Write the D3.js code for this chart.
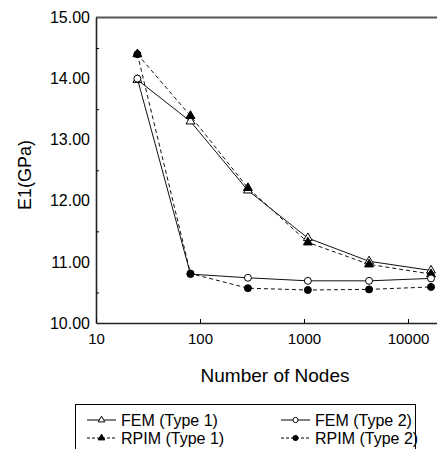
<!DOCTYPE html>
<html>
<head>
<meta charset="utf-8">
<script src="https://cdn.jsdelivr.net/npm/d3@7"></script>
<style>
body{margin:0;background:#fff;}
svg{display:block;font-family:"Liberation Sans",Arial,sans-serif;}
.tick text{fill:#000;}
</style>
</head>
<body>
<svg id="chart"></svg>
<script>
//data
var nodes = [25, 81, 289, 1089, 4225, 16641];
var femType1 = [13.98, 13.30, 12.17, 11.39, 11.01, 10.86];
var rpimType1 = [14.40, 13.39, 12.21, 11.32, 10.96, 10.80];
var femType2 = [14.00, 10.80, 10.74, 10.69, 10.69, 10.73];
var rpimType2 = [14.40, 10.81, 10.57, 10.54, 10.55, 10.59];
var xTicks = [10, 100, 1000, 10000];
var yTicks = [10, 11, 12, 13, 14, 15];
var yMinor = [10.5, 11.5, 12.5, 13.5, 14.5];

var seriesList = [
    {name:"FEM (Type 1)", values:femType1, marker:"triangle", filled:false, dashed:false},
    {name:"RPIM (Type 1)", values:rpimType1, marker:"triangle", filled:true, dashed:true},
    {name:"FEM (Type 2)", values:femType2, marker:"circle", filled:false, dashed:false},
    {name:"RPIM (Type 2)", values:rpimType2, marker:"circle", filled:true, dashed:true}
];

var screen = {width:437, height:449};
var plot = {left:96, top:17.5, bottom:323};

var svg = d3.select("#chart")
    .attr("width", screen.width)
    .attr("height", screen.height);

var xScale = d3.scaleLog()
    .domain([10, 20000])
    .range([plot.left, plot.left + 104 * Math.log10(2000)]);

var yScale = d3.scaleLinear()
    .domain([10, 15])
    .range([plot.bottom, plot.top]);

var drawMarker = function(g, s, size)
{
    if(s.marker == "circle")
    {
        g.append("circle")
            .attr("r", size)
            .attr("fill", s.filled ? "#000" : "#fff")
            .attr("stroke", "#000")
            .attr("stroke-width", 1);
    }
    else
    {
        g.append("path")
            .attr("d", d3.symbol().type(d3.symbolTriangle).size(size * size * 2.8)())
            .attr("fill", s.filled ? "#000" : "#fff")
            .attr("stroke", "#000")
            .attr("stroke-width", 1);
    }
}

var drawAxes = function()
{
    //top border
    svg.append("line")
        .attr("x1", plot.left).attr("x2", screen.width)
        .attr("y1", plot.top).attr("y2", plot.top)
        .attr("stroke", "#555").attr("stroke-width", 2);

    var yAxis = d3.axisLeft(yScale)
        .tickValues(yTicks)
        .tickFormat(d3.format(".2f"))
        .tickSize(0)
        .tickPadding(6);
    var ya = svg.append("g")
        .attr("transform", "translate(" + plot.left + ",0)")
        .call(yAxis);
    ya.select(".domain").attr("stroke", "#222").attr("stroke-width", 1.6);
    ya.selectAll("text").style("font-size", "16px");

    var yMinorAxis = d3.axisRight(yScale)
        .tickValues(yMinor)
        .tickFormat("")
        .tickSize(3);
    var ym = svg.append("g")
        .attr("transform", "translate(" + plot.left + ",0)")
        .call(yMinorAxis);
    ym.select(".domain").remove();

    var xAxis = d3.axisBottom(xScale)
        .tickValues(xTicks)
        .tickFormat(d3.format("d"))
        .tickSizeInner(-4)
        .tickSizeOuter(0)
        .tickPadding(10);
    var xa = svg.append("g")
        .attr("transform", "translate(0," + plot.bottom + ")")
        .call(xAxis);
    xa.select(".domain").attr("stroke", "#222").attr("stroke-width", 1.6);
    xa.selectAll("text").style("font-size", "15px");
}

var drawLabels = function()
{
    svg.append("text")
        .text("Number of Nodes")
        .attr("x", 275)
        .attr("y", 382)
        .attr("text-anchor", "middle")
        .style("font-size", "19px");

    svg.append("text")
        .text("E1(GPa)")
        .attr("text-anchor", "middle")
        .attr("transform", "translate(31,175) rotate(-90)")
        .style("font-size", "18px");
}

var drawPlot = function()
{
    var line = d3.line()
        .x(function(d){ return xScale(d.n); })
        .y(function(d){ return yScale(d.v); });

    seriesList.forEach(function(s)
    {
        var pts = nodes.map(function(n, i){ return {n:n, v:s.values[i]}; });
        svg.append("path")
            .datum(pts)
            .attr("d", line)
            .attr("fill", "none")
            .attr("stroke", "#111")
            .attr("stroke-width", 1)
            .attr("stroke-dasharray", s.dashed ? "4,3" : null);
    });

    seriesList.forEach(function(s)
    {
        nodes.forEach(function(n, i)
        {
            var g = svg.append("g")
                .attr("transform", "translate(" + xScale(n) + "," + yScale(s.values[i]) + ")");
            drawMarker(g, s, 3.5);
        });
    });
}

var drawLegend = function()
{
    svg.append("rect")
        .attr("x", 75.5).attr("y", 404.5)
        .attr("width", 340).attr("height", 60)
        .attr("fill", "#fff")
        .attr("stroke", "#000").attr("stroke-width", 1);

    var pos = [{x:87, y:420}, {x:87, y:438}, {x:281, y:420}, {x:281, y:438}];
    seriesList.forEach(function(s, i)
    {
        var entry = svg.append("g")
            .attr("transform", "translate(" + pos[i].x + "," + pos[i].y + ")");
        entry.append("line")
            .attr("x1", 0).attr("x2", 29)
            .attr("stroke", "#000").attr("stroke-width", 1)
            .attr("stroke-dasharray", s.dashed ? "3,2" : null);
        var m = entry.append("g").attr("transform", "translate(14.5,0)");
        drawMarker(m, s, 2.6);
        entry.append("text")
            .text(s.name)
            .attr("x", 34)
            .attr("dy", "0.36em")
            .style("font-size", "16px");
    });
}

drawAxes();
drawPlot();
drawLabels();
drawLegend();
</script>
</body>
</html>
